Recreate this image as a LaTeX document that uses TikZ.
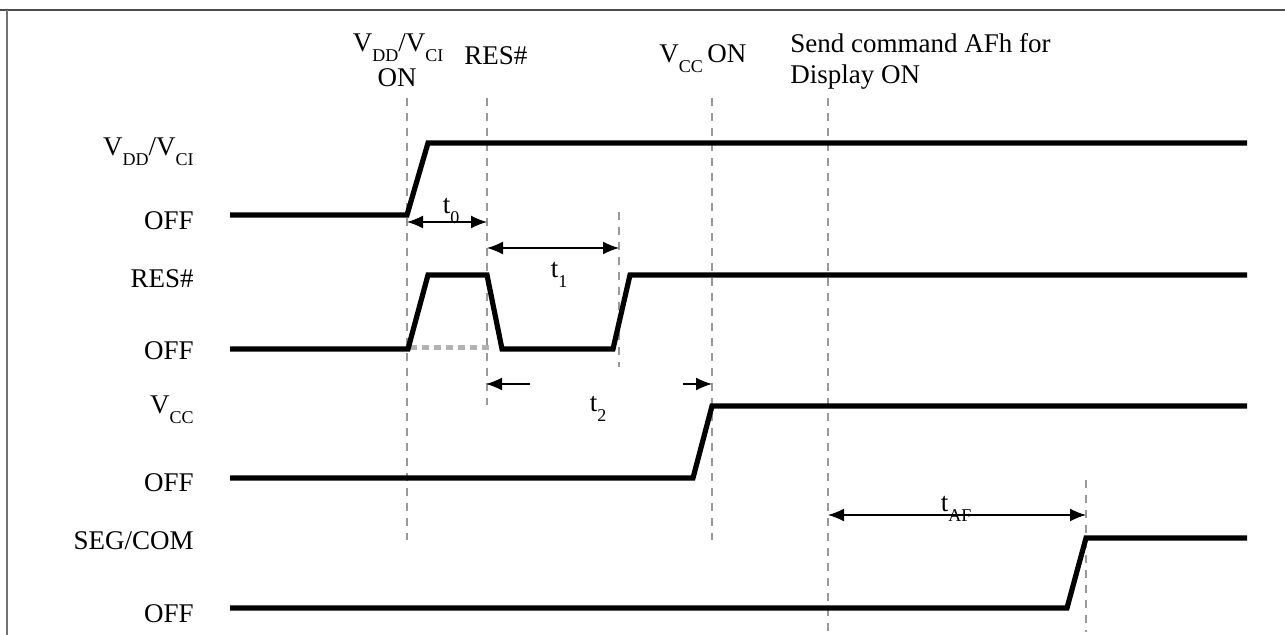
\documentclass[tikz,border=0pt]{standalone}
\usepackage{fontspec}
\setmainfont{Liberation Serif}
\usepackage{tikz}
\usetikzlibrary{arrows.meta}
\newcommand{\lowsub}[1]{\raisebox{-5pt}{\fontsize{9}{9}\selectfont #1}}

\begin{document}
\begin{tikzpicture}[x=0.5pt,y=-0.5pt,every node/.style={font=\fontsize{13.5}{15}\selectfont,inner sep=0pt},
  sig/.style={line width=2.6pt,line join=miter},
  guide/.style={gray!80,line width=1.4pt,dash pattern=on 4pt off 3.5pt},
  span/.style={line width=0.7pt,{Latex[length=8pt,width=6.5pt]}-{Latex[length=8pt,width=6.5pt]}},
  half/.style={line width=0.7pt,-{Latex[length=8pt,width=6.5pt]}}]
\useasboundingbox (0,0) rectangle (1285,635);
\draw[black!70,line width=1.4pt] (0,10) -- (1285,10);
\draw[black!55,line width=1pt] (7,10) -- (7,635);
\node[anchor=base east] (lvdd) at (194,156) {V\lowsub{DD}/V\lowsub{CI}};
\node[anchor=base east] (loff1) at (194,230) {OFF};
\node[anchor=base east] (lres) at (194,288) {RES\#};
\node[anchor=base east] (loff2) at (194,360) {OFF};
\node[anchor=base east] (lvcc) at (194,414) {V\lowsub{CC}};
\node[anchor=base east] (loff3) at (194,492) {OFF};
\node[anchor=base east] (lseg) at (194,550) {SEG/COM};
\node[anchor=base east] (loff4) at (194,623) {OFF};
\node[anchor=base] (hvdd) at (398,52) {V\lowsub{DD}/V\lowsub{CI}};
\node[anchor=base] (hon) at (397,87) {ON};
\node[anchor=base west] (hres) at (464,65) {RES\#};
\node[anchor=base west] (hvcc) at (659,63) {V\lowsub{CC}\,ON};
\node[anchor=base west] (hcmd) at (790,53) {Send command AFh for};
\node[anchor=base west] (hdisp) at (790,84) {Display ON};
\coordinate (ga) at (407,98);
\coordinate (gb) at (487,98);
\coordinate (gc) at (619,212);
\coordinate (gd) at (712,98);
\coordinate (ge) at (828,98);
\coordinate (gf) at (1086,480);
\draw[guide] (ga) -- (407,540);
\draw[guide] (gb) -- (487,405);
\draw[guide] (gc) -- (619,367);
\draw[guide] (gd) -- (712,540);
\draw[guide] (ge) -- (828,635);
\draw[guide] (gf) -- (1086,632);
\draw[sig] (230,215) -- (407,215) -- (428,143) -- (1247,143);
\draw[gray!60,line width=2.5pt,dash pattern=on 3.5pt off 2.5pt] (410,348) -- (492,348);
\draw[sig] (230,349) -- (408,349) -- (428,275) -- (487,275) -- (502,349) -- (613,349) -- (630,275) -- (1247,275);
\draw[sig] (230,478) -- (693,478) -- (712,406) -- (1247,406);
\draw[sig] (230,608) -- (1067,608) -- (1086,538) -- (1247,538);
\coordinate (t0a) at (407,222);
\coordinate (t0b) at (487,222);
\coordinate (t1a) at (487,248);
\coordinate (t1b) at (619,248);
\coordinate (t2a) at (530,384);
\coordinate (t2b) at (486,384);
\coordinate (t2c) at (683,384);
\coordinate (t2d) at (712,384);
\coordinate (tfa) at (828,515);
\coordinate (tfb) at (1086,515);
\draw[span] (t0a) -- (t0b);
\draw[span] (t1a) -- (t1b);
\draw[half] (t2a) -- (t2b);
\draw[half] (t2c) -- (t2d);
\draw[span] (tfa) -- (tfb);
\node[anchor=base] (lt0) at (451,214) {t\lowsub{0}};
\node[anchor=base] (lt1) at (559,278) {t\lowsub{1}};
\node[anchor=base] (lt2) at (598,412) {t\lowsub{2}};
\node[anchor=base] (ltaf) at (956,512) {t\lowsub{AF}};
\end{tikzpicture}
\end{document}
